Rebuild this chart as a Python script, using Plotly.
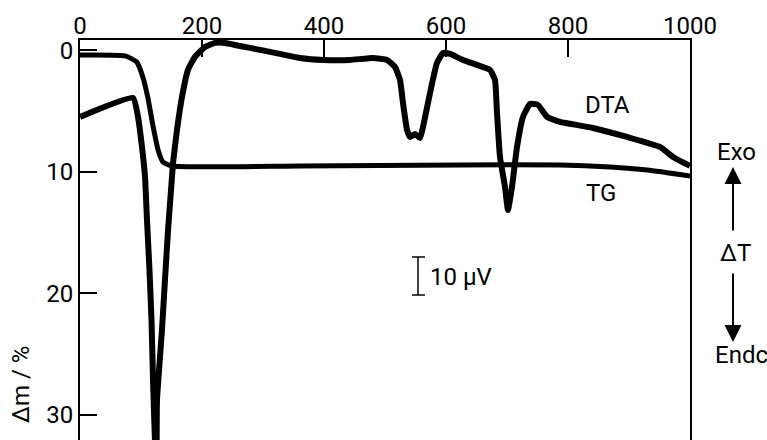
import plotly.graph_objects as go

# Temperature (°C) and curve values
tg_temp = [0, 74, 93, 103, 111, 120, 128, 136, 151, 361, 623, 787, 869, 930, 1000]
tg_mass = [0.37, 0.45, 0.95, 2.18, 3.83, 6.3, 8.19, 9.18, 9.51, 9.51, 9.42, 9.42, 9.59, 9.84, 10.33]

dta_temp = [0, 86.9, 95.1, 101.6, 106.6, 109.8, 113.9, 117.2, 119.7, 121.8, 123.4, 124.6,
            125.6, 126.2, 134.4, 139.3, 144.3, 150.8, 152.5, 159.0, 167.2, 177.0,
            188.5, 204.9, 221.3, 237.7, 254.1, 278.7, 311.5, 360.7, 398.4, 442.6,
            480.3, 503.3, 516.4, 524.6, 529.5, 536.1, 541.0, 549.2, 557.4, 562.3,
            573.8, 585.2, 595.1, 606.6, 627.9, 650.8, 672.1, 680.3, 683.6, 688.5,
            696.7, 701.6, 708.2, 716.4, 726.2, 737.7, 750.8, 765.6, 786.9, 841.0,
            896.7, 950.8, 972.1, 996.7, 1000]
dta_val = [5.47, 3.91, 5.47, 7.94, 10.41, 13.95, 18.07, 22.18, 27.1, 30.5, 32.8, 34.9,
           32.8, 28.8, 23.0, 18.9, 14.8, 10.41, 9.26, 6.54, 3.83, 1.60,
           0.53, -0.29, -0.62, -0.62, -0.45, -0.21, 0.12, 0.62, 0.78, 0.78,
           0.62, 0.78, 1.36, 2.43, 4.32, 6.54, 7.12, 6.87, 7.20, 6.30,
           3.50, 1.03, 0.21, 0.29, 0.78, 1.19, 1.60, 2.43, 5.14, 8.77,
           11.23, 13.13, 11.23, 7.94, 5.47, 4.40, 4.49, 5.47, 5.88, 6.38,
           7.12, 7.94, 8.77, 9.42, 9.5]

x_ticks = [0, 200, 400, 600, 800, 1000]
y_ticks = [0, 10, 20, 30]

FONT = "Roboto"
FS = 24
W, H = 767, 440
L, R, T, B = 80, 77, 40, 0
PW, PH = W - L - R, H - T - B


def px(x):
    return (x - L) / PW


def py(y):
    return (H - B - y) / PH


fig = go.Figure()
fig.add_trace(go.Scatter(x=tg_temp, y=tg_mass, mode="lines", name="TG",
                         line=dict(color="black", width=5, shape="spline", smoothing=0.5)))
fig.add_trace(go.Scatter(x=dta_temp, y=dta_val, mode="lines", name="DTA",
                         line=dict(color="black", width=6, shape="spline", smoothing=0.4)))

fig.update_layout(
    width=W, height=H,
    margin=dict(l=L, r=R, t=T, b=B),
    paper_bgcolor="white", plot_bgcolor="white",
    showlegend=False,
    font=dict(family=FONT, size=FS, color="black"),
    xaxis=dict(side="top", range=[0, 1000], tickvals=x_ticks,
               ticks="inside", ticklen=17, tickwidth=1.5, tickcolor="black",
               showline=True, linecolor="black", linewidth=2, mirror=False,
               showgrid=False, zeroline=False, ticklabelstandoff=-6,
               tickfont=dict(family=FONT, size=FS, color="black")),
    yaxis=dict(range=[32.06, -0.86], tickvals=y_ticks,
               ticks="inside", ticklen=17, tickwidth=2, tickcolor="black",
               showline=True, linecolor="black", linewidth=2, mirror=True,
               showgrid=False, zeroline=False,
               tickfont=dict(family=FONT, size=FS, color="black")),
)

ann = [
    dict(text="DTA", x=px(607), y=py(105)),
    dict(text="TG", x=px(601), y=py(193)),
    dict(text="Exo", x=px(736), y=py(152)),
    dict(text="ΔT", x=px(735), y=py(253)),
    dict(text="Endc", x=px(741), y=py(355)),
    dict(text="10 µV", x=px(461), y=py(277)),
    dict(text="Δm / %", x=px(21), y=py(385), textangle=-90),
]
for a in ann:
    fig.add_annotation(xref="paper", yref="paper", showarrow=False,
                       xanchor="center", yanchor="middle",
                       font=dict(family=FONT, size=FS, color="black"), **a)

# Exo / Endo arrows
fig.add_annotation(xref="paper", yref="paper", x=px(733), y=py(167), text="",
                   showarrow=True, ax=0, ay=65, arrowhead=2, arrowsize=1.7,
                   arrowwidth=2, arrowcolor="black")
fig.add_annotation(xref="paper", yref="paper", x=px(733), y=py(342), text="",
                   showarrow=True, ax=0, ay=-70, arrowhead=2, arrowsize=1.7,
                   arrowwidth=2, arrowcolor="black")

# 10 µV scale bar
for (x0, y0, x1, y1) in [(418, 257, 418, 295), (412, 257, 425, 257), (412, 295, 425, 295)]:
    fig.add_shape(type="line", xref="paper", yref="paper",
                  x0=px(x0), y0=py(y0), x1=px(x1), y1=py(y1),
                  line=dict(color="black", width=1.5))

fig.write_html("out.html")
